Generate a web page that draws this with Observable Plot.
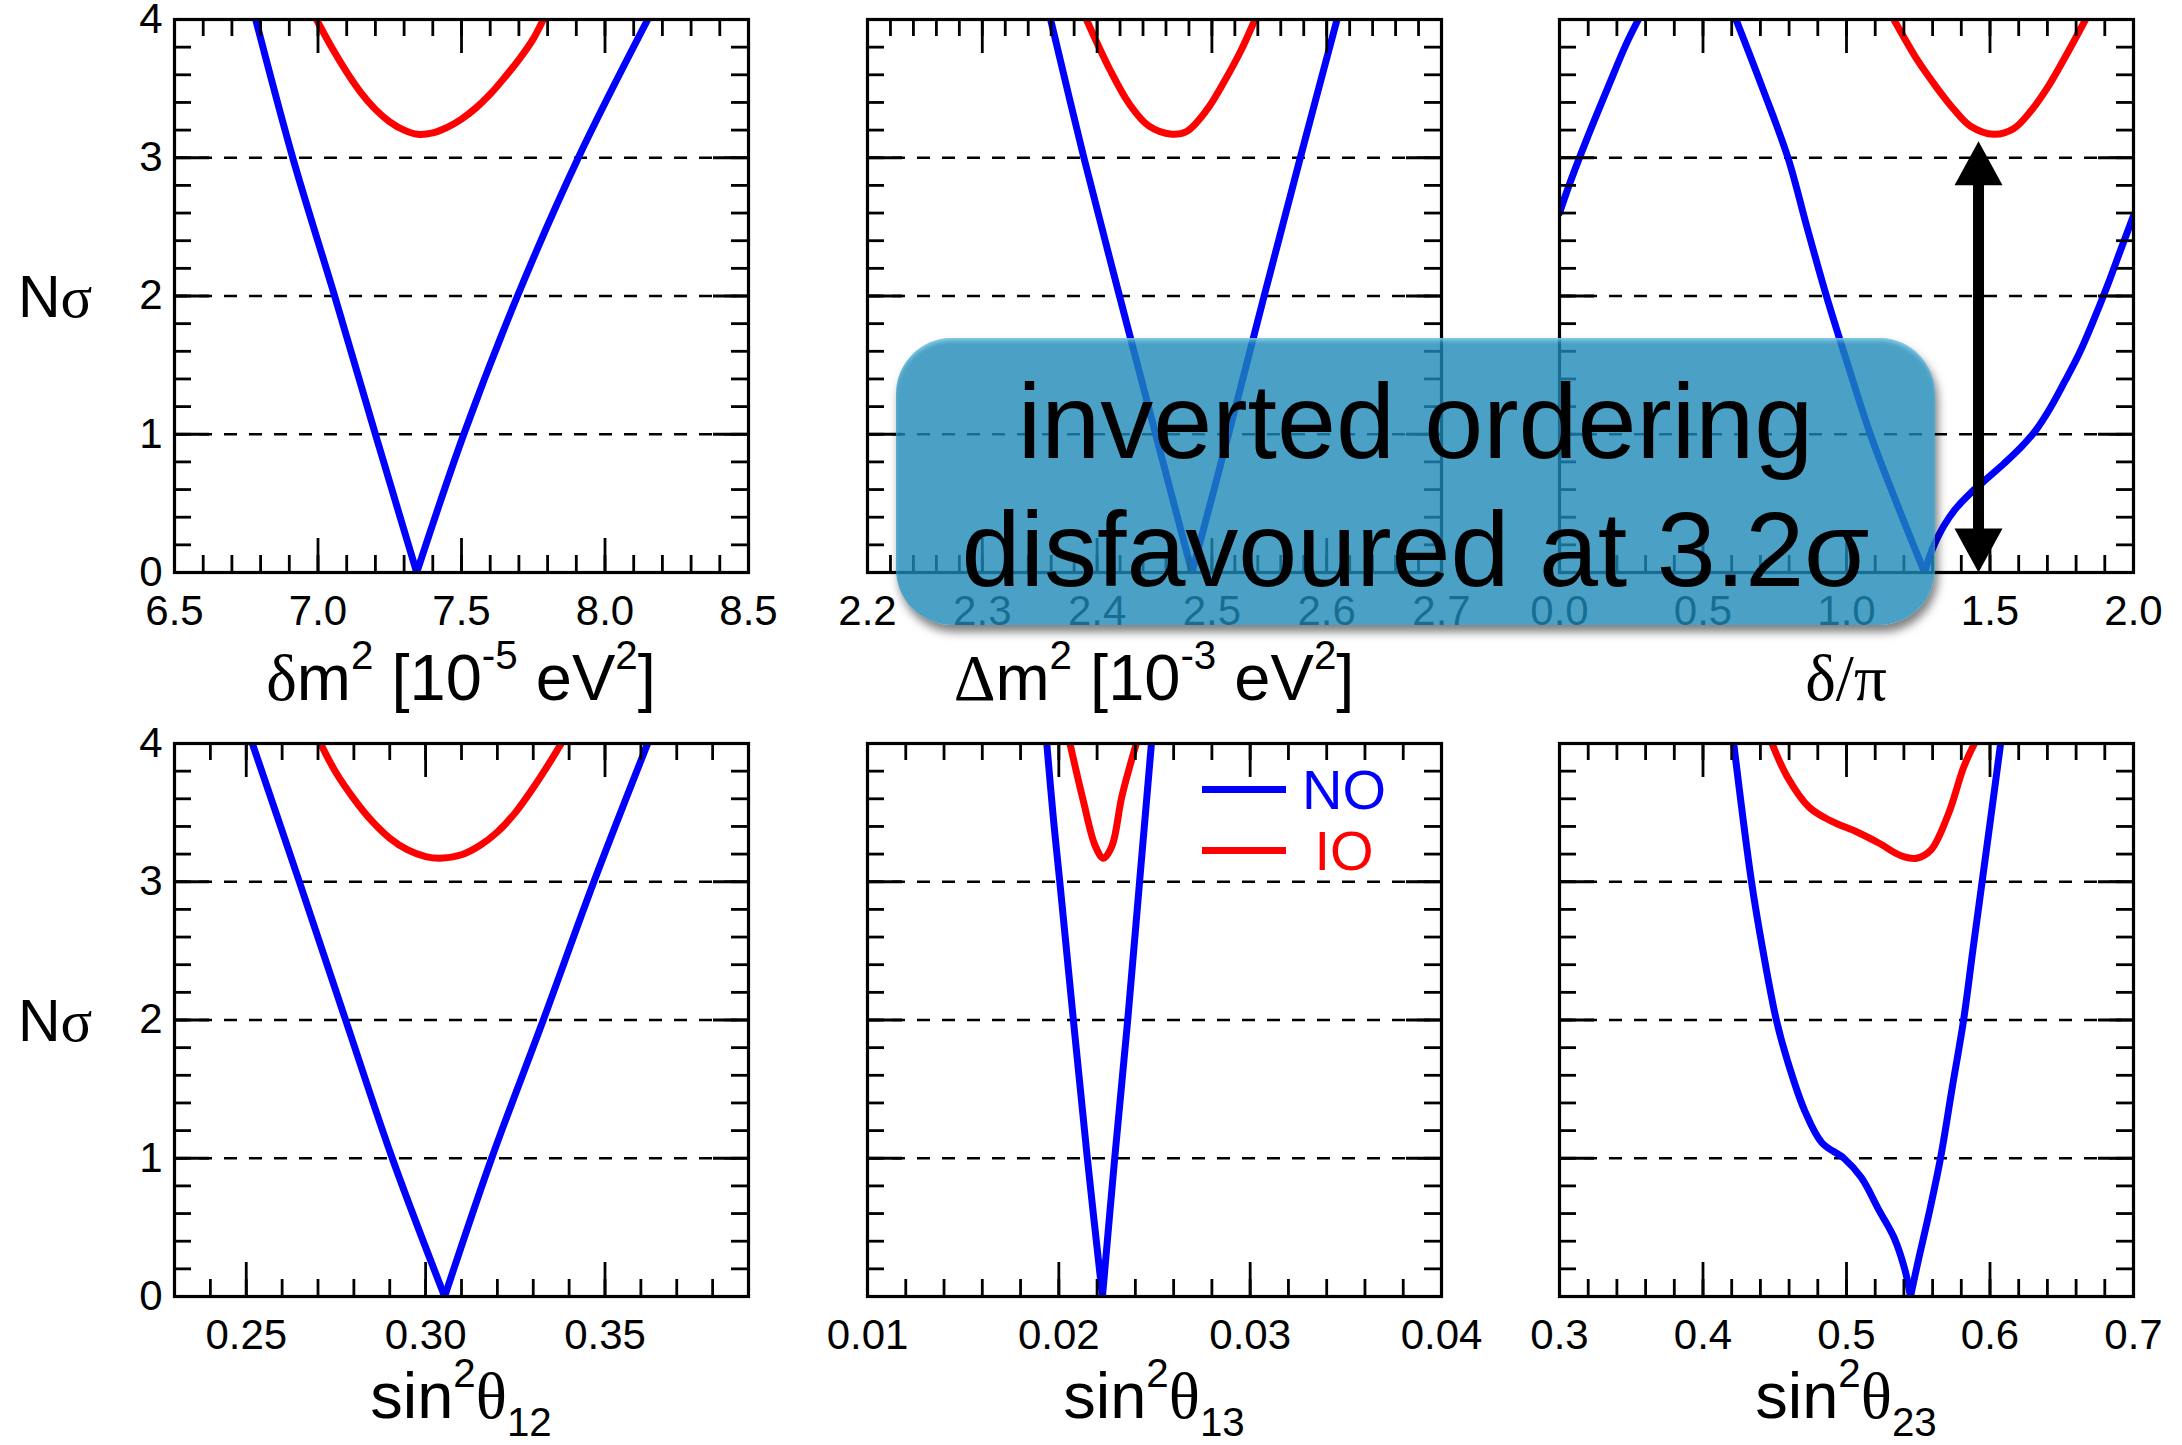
<!DOCTYPE html>
<html>
<head>
<meta charset="utf-8">
<script src="https://cdn.jsdelivr.net/npm/d3@7"></script>
<script src="https://cdn.jsdelivr.net/npm/@observablehq/plot@0.6"></script>
<style>
  body { margin: 0; background: #fff; }
  #fig { position: relative; width: 2182px; height: 1445px; overflow: hidden; background: #fff;
         font-family: "Liberation Sans", Arial, Helvetica, sans-serif; color: #000; }
  .panel { position: absolute; }
  .xlab { position: absolute; text-align: center; font-size: 65px; line-height: 65px; white-space: nowrap; }
  .ylab { position: absolute; font-size: 59px; line-height: 59px; white-space: nowrap; }
  .g { font-family: "Liberation Serif", "Times New Roman", serif; }
  .sup { font-size: 62%; position: relative; top: -0.78em; }
  .sub { font-size: 62%; position: relative; top: 0.45em; }
  .legline { position: absolute; height: 7px; }
  .legtxt { position: absolute; width: 140px; text-align: center; font-size: 56px; line-height: 56px; }
  #box { position: absolute; left: 896px; top: 338px; width: 1039px; height: 287px; border-radius: 56px;
         background: rgba(30,137,182,0.80);
         box-shadow: inset 0 4px 5px -2px rgba(160,225,250,0.85), 3px 7px 10px rgba(0,0,0,0.5); }
  #boxtxt { position: absolute; left: 0; top: 19px; width: 100%; text-align: center;
            font-size: 106px; line-height: 128px; color: #000; white-space: nowrap; }
</style>
</head>
<body>
<div id="fig"></div>
<script>
// ---------------- data ----------------
const yMajor = [0, 1, 2, 3, 4];
const gridLevels = [1, 2, 3];

// δm² [1e-5 eV²]
const dm2Ticks = [6.5, 7.0, 7.5, 8.0, 8.5];
const dm2NO_L = [[6.783,4.0],[6.912,3.0],[7.058,2.0],[7.200,1.0],[7.344,0.0]];
const dm2NO_R = [[7.344,0.0],[7.508,1.0],[7.695,2.0],[7.907,3.0],[8.149,4.0]];
const dm2IO = [[6.995,4.0],[7.05,3.79],[7.10,3.62],[7.15,3.47],[7.20,3.35],[7.25,3.26],[7.30,3.20],[7.347,3.17],[7.40,3.18],
               [7.45,3.22],[7.50,3.28],[7.55,3.36],[7.60,3.46],[7.65,3.58],[7.70,3.71],[7.75,3.86],[7.785,4.0]];

// Δm² [1e-3 eV²]
const Dm2Ticks = [2.2, 2.3, 2.4, 2.5, 2.6, 2.7];
const Dm2NO_L = [[2.3595,4.0],[2.3885,3.0],[2.4195,2.0],[2.451,1.0],[2.4827,0.0]];
const Dm2NO_R = [[2.4827,0.0],[2.5145,1.0],[2.5455,2.0],[2.577,3.0],[2.609,4.0]];
const Dm2IO = [[2.3907,4.0],[2.411,3.64],[2.428,3.39],[2.445,3.23],[2.465,3.17],[2.478,3.19],[2.495,3.34],[2.512,3.57],
               [2.525,3.77],[2.5375,4.0]];

// δ/π
const deltaTicks = [0.0, 0.5, 1.0, 1.5, 2.0];
const deltaNO_a = [[0.0,2.60],[0.035,2.81],[0.096,3.14],[0.171,3.52],[0.232,3.82],[0.275,4.0]];
const deltaNO_L = [[0.615,4.0],[0.708,3.5],[0.796,3.0],[0.862,2.5],[0.930,2.0],[1.005,1.5],[1.083,1.0],[1.175,0.5],[1.272,0.0]];
const deltaNO_R = [[1.272,0.0],[1.29,0.12],[1.31,0.22],[1.34,0.34],[1.38,0.46],[1.43,0.57],[1.49,0.68],[1.55,0.79],[1.61,0.91],
                   [1.66,1.03],[1.71,1.19],[1.76,1.38],[1.81,1.58],[1.86,1.82],[1.91,2.08],[1.96,2.36],[2.0,2.58]];
const deltaIO = [[1.165,4.0],[1.249,3.70],[1.310,3.52],[1.370,3.36],[1.431,3.23],[1.514,3.17],[1.582,3.21],[1.643,3.34],
                 [1.704,3.52],[1.765,3.74],[1.833,4.0]];
const arrowDelta = [{x: 1.46, lo: 0, hi: 3.12}];

// sin²θ12
const s12Ticks = [0.25, 0.30, 0.35];
const s12NO_L = [[0.2517,4],[0.2648,3],[0.2777,2],[0.2907,1],[0.3053,0]];
const s12NO_R = [[0.3053,0],[0.3184,1],[0.3328,2],[0.3469,3],[0.3619,4]];
const s12IO = [[0.2707,4.0],[0.275,3.79],[0.280,3.60],[0.285,3.44],[0.290,3.315],[0.295,3.23],[0.300,3.182],[0.304,3.17],
               [0.310,3.195],[0.315,3.26],[0.320,3.36],[0.325,3.50],[0.330,3.68],[0.335,3.88],[0.3378,4.0]];

// sin²θ13
const s13Ticks = [0.01, 0.02, 0.03, 0.04];
const s13NO_L = [[0.01937,4],[0.01972,3.45],[0.02005,3.0],[0.02076,2.0],[0.02149,1.0],[0.02228,0]];
const s13NO_R = [[0.02228,0],[0.02292,1],[0.0236,2],[0.02422,3],[0.02484,4]];
const s13IO = [[0.02058,4.0],[0.02127,3.59],[0.0219,3.26],[0.02233,3.17],[0.02278,3.26],[0.0233,3.62],[0.02405,4.0]];

// sin²θ23
const s23Ticks = [0.3, 0.4, 0.5, 0.6, 0.7];
const s23NO_L = [[0.4214,4.0],[0.4338,3.0],[0.4418,2.5],[0.4511,2.0],[0.4587,1.71],[0.4709,1.343],[0.4830,1.11],[0.4982,1.0],
                 [0.5103,0.86],[0.5225,0.627],[0.5331,0.427],[0.5407,0.193],[0.5446,0]];
const s23NO_R = [[0.5446,0],[0.5498,0.25],[0.5575,0.6],[0.5655,1.0],[0.5735,1.5],[0.5816,2.0],[0.588,2.5],[0.5945,3.0],
                 [0.601,3.5],[0.6074,4.0]];
const s23IO = [[0.4481,4.0],[0.4587,3.76],[0.4739,3.54],[0.4891,3.44],[0.5073,3.36],[0.5225,3.28],[0.5376,3.19],[0.5489,3.17],
               [0.5589,3.23],[0.571,3.49],[0.5817,3.83],[0.5892,4.0]];

const legendNames = ["NO", "IO"];
const legendColors = ["#0000ff", "#ff0000"];

// ---------------- layout ----------------
const FW = 574, FH = 553;
const ML = 80, MR = 50, MT = 22, MB = 70;
const colLeft = [174, 867, 1559];
const rowTop = [19, 743];
const BLUE = "#0000ff", RED = "#ff0000";
const LW = 7;

const panels = [
  {row:0, col:0, domain:[6.5,8.5],  ticks:dm2Ticks,   fmt:".1f", minor:0.1,   no:[dm2NO_L, dm2NO_R], io:dm2IO, yAxis:true},
  {row:0, col:1, domain:[2.2,2.7],  ticks:Dm2Ticks,   fmt:".1f", minor:0.02,  no:[Dm2NO_L, Dm2NO_R], io:Dm2IO},
  {row:0, col:2, domain:[0,2],      ticks:deltaTicks, fmt:".1f", minor:0.1,   no:[deltaNO_a, deltaNO_L, deltaNO_R], io:deltaIO, arrow:true},
  {row:1, col:0, domain:[0.23,0.39],ticks:s12Ticks,   fmt:".2f", minor:0.01,  no:[s12NO_L, s12NO_R], io:s12IO, yAxis:true},
  {row:1, col:1, domain:[0.01,0.04],ticks:s13Ticks,   fmt:".2f", minor:0.002, no:[s13NO_L, s13NO_R], io:s13IO},
  {row:1, col:2, domain:[0.3,0.7],  ticks:s23Ticks,   fmt:".1f", minor:0.02,  no:[s23NO_L, s23NO_R], io:s23IO}
];

// arrow heads: tip at the origin of the symbol
const headUp = { draw(c) { c.moveTo(0, 0); c.lineTo(24, 44); c.lineTo(-24, 44); c.closePath(); } };
const headDown = { draw(c) { c.moveTo(0, 0); c.lineTo(24, -44); c.lineTo(-24, -44); c.closePath(); } };

const fig = document.getElementById("fig");
const yMinor = d3.range(21).map(i => i * 0.2);

for (const p of panels) {
  const [d0, d1] = p.domain;
  const n = Math.round((d1 - d0) / p.minor);
  const xMinor = d3.range(n + 1).map(i => d0 + i * p.minor);
  const tk = {stroke: "#000", strokeWidth: 2.8};
  const marks = [
    Plot.ruleY(gridLevels, {y: d => d, stroke: "#000", strokeWidth: 2.7, strokeDasharray: "13,12"}),
    ...p.no.map(seg => Plot.line(seg, {x: d => d[0], y: d => d[1], stroke: BLUE, strokeWidth: LW, curve: "catmull-rom", clip: true})),
    Plot.line(p.io, {x: d => d[0], y: d => d[1], stroke: RED, strokeWidth: LW, curve: "catmull-rom", clip: true}),
    // minor ticks (inward)
    Plot.ruleX(xMinor, {x: d => d, insetTop: FH - 17, ...tk}),
    Plot.ruleX(xMinor, {x: d => d, insetBottom: FH - 17, ...tk}),
    Plot.ruleY(yMinor, {y: d => d, insetRight: FW - 17, ...tk}),
    Plot.ruleY(yMinor, {y: d => d, insetLeft: FW - 17, ...tk}),
    // major ticks (inward)
    Plot.ruleX(p.ticks, {x: d => d, insetTop: FH - 34, ...tk}),
    Plot.ruleX(p.ticks, {x: d => d, insetBottom: FH - 34, ...tk}),
    Plot.ruleY(yMajor, {y: d => d, insetRight: FW - 35, ...tk}),
    Plot.ruleY(yMajor, {y: d => d, insetLeft: FW - 35, ...tk}),
    Plot.frame({stroke: "#000", strokeWidth: 3.2}),
    Plot.axisX(p.ticks, {tickSize: 0, tickPadding: 23, fontSize: 42, tickFormat: d3.format(p.fmt), label: null})
  ];
  if (p.yAxis) {
    marks.push(Plot.axisY(yMajor, {tickSize: 0, tickPadding: 12, fontSize: 42, tickFormat: d => String(d), label: null}));
  }
  if (p.arrow) {
    marks.push(
      Plot.ruleX(arrowDelta, {x: "x", y1: "hi", y2: "lo", stroke: "#000", strokeWidth: 11, insetTop: 30, insetBottom: 30}),
      Plot.dot(arrowDelta, {x: "x", y: "hi", symbol: headUp, r: 10, fill: "#000", stroke: null}),
      Plot.dot(arrowDelta, {x: "x", y: "lo", symbol: headDown, r: 10, fill: "#000", stroke: null})
    );
  }
  const chart = Plot.plot({
    width: FW + ML + MR,
    height: FH + MT + MB,
    marginLeft: ML, marginRight: MR, marginTop: MT, marginBottom: MB,
    x: {domain: p.domain},
    y: {domain: [0, 4], axis: p.yAxis ? undefined : null},
    style: {background: "none", maxWidth: "none", overflow: "visible",
            fontFamily: "'Liberation Sans', Arial, Helvetica, sans-serif", color: "#000"},
    marks
  });
  const wrap = document.createElement("div");
  wrap.className = "panel";
  wrap.style.left = (colLeft[p.col] - ML) + "px";
  wrap.style.top = (rowTop[p.row] - MT) + "px";
  wrap.appendChild(chart);
  fig.appendChild(wrap);
}

// axis titles (rich text with super/subscripts)
const xTitles = [
  '<span class="g">δ</span>m<span class="sup">2</span> [10<span class="sup">-5</span> eV<span class="sup">2</span>]',
  '<span class="g">Δ</span>m<span class="sup">2</span> [10<span class="sup">-3</span> eV<span class="sup">2</span>]',
  '<span class="g">δ/π</span>',
  'sin<span class="sup">2</span><span class="g">θ</span><span class="sub">12</span>',
  'sin<span class="sup">2</span><span class="g">θ</span><span class="sub">13</span>',
  'sin<span class="sup">2</span><span class="g">θ</span><span class="sub">23</span>'
];
const titleBaseline = [700, 1418];
panels.forEach((p, i) => {
  const d = document.createElement("div");
  d.className = "xlab";
  d.style.left = colLeft[p.col] + "px";
  d.style.width = FW + "px";
  d.style.top = (titleBaseline[p.row] - 55) + "px";
  d.innerHTML = xTitles[i];
  fig.appendChild(d);
});
[318, 1042].forEach(b => {
  const d = document.createElement("div");
  d.className = "ylab";
  d.style.left = "18px";
  d.style.top = (b - 50) + "px";
  d.innerHTML = 'N<span class="g">σ</span>';
  fig.appendChild(d);
});

// legend (panel sin²θ13)
legendNames.forEach((name, i) => {
  const cy = [789, 850][i];
  const l = document.createElement("div");
  l.className = "legline";
  l.style.left = "1202px"; l.style.width = "84px";
  l.style.top = (cy - 3.5) + "px";
  l.style.background = legendColors[i];
  fig.appendChild(l);
  const t = document.createElement("div");
  t.className = "legtxt";
  t.style.left = (1344 - 70) + "px";
  t.style.top = (cy - 27) + "px";
  t.style.color = legendColors[i];
  t.textContent = name;
  fig.appendChild(t);
});

// annotation box
const box = document.createElement("div");
box.id = "box";
box.innerHTML = '<div id="boxtxt">inverted ordering<br>disfavoured at 3.2σ</div>';
fig.appendChild(box);
</script>
</body>
</html>
